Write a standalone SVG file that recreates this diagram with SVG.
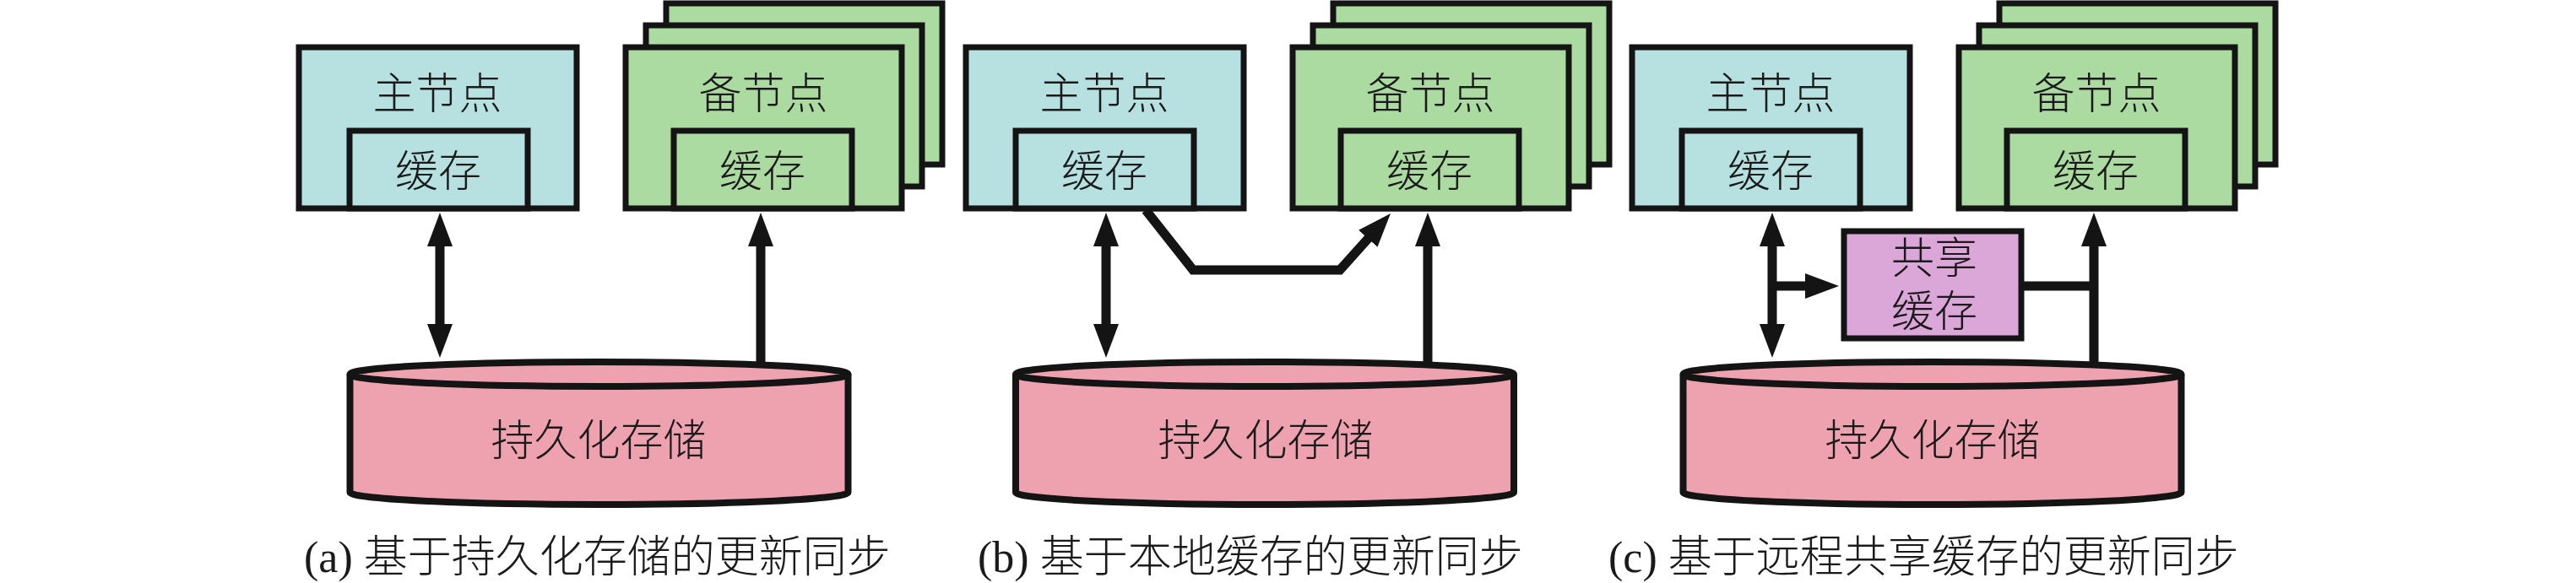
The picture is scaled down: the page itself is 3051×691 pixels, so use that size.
<svg xmlns="http://www.w3.org/2000/svg" width="3051" height="691" viewBox="0 0 3051 691">
<style>
.bx{stroke:#141414;stroke-width:7;stroke-linejoin:miter}
.pri{fill:#b6e1e0}
.sec{fill:#acdba2}
.sh{fill:#dba6d8}
.db{fill:#eea2b0;stroke:#141414;stroke-width:8}
.t{font-family:"Liberation Serif","Noto Sans CJK SC",serif;font-size:51px;font-weight:300;fill:#1a1a1a;text-anchor:middle}
.cap{font-family:"Liberation Serif","Noto Sans CJK SC",serif;font-size:52px;font-weight:300;fill:#1a1a1a}
.ln{fill:none;stroke:#141414;stroke-width:11;stroke-linejoin:miter}
</style>
<defs>
<marker id="ah" viewBox="0 0 40 30" refX="12" refY="15" markerWidth="40" markerHeight="30" markerUnits="userSpaceOnUse" orient="auto-start-reverse">
<path d="M0,0 L40,15 L0,30 z" fill="#141414"/>
</marker>
</defs>
<rect width="3051" height="691" fill="#ffffff"/>

<!-- Panel (a) -->
<g id="a-primary">
<rect class="bx pri" x="354" y="56" width="329" height="191"/>
<rect class="bx pri" x="414" y="155" width="211" height="92"/>
<text class="t" x="518" y="129">主节点</text>
<text class="t" x="519" y="221">缓存</text>
</g>
<g id="a-standby">
<rect class="bx sec" x="789" y="4" width="327" height="191"/>
<rect class="bx sec" x="765" y="30" width="327" height="191"/>
<rect class="bx sec" x="741" y="56" width="327" height="191"/>
<rect class="bx sec" x="798" y="155" width="211" height="92"/>
<text class="t" x="904" y="129">备节点</text>
<text class="t" x="903" y="221">缓存</text>
</g>
<g id="a-storage">
<path class="db" d="M414.5,443.5 V583.5 A295,14.5 0 0 0 1004.5,583.5 V443.5"/>
<ellipse class="db" cx="709.5" cy="443.5" rx="295" ry="14.5"/>
<text class="t" x="709" y="540">持久化存储</text>
</g>

<!-- Panel (b) -->
<g id="b-primary">
<rect class="bx pri" x="1144" y="56" width="329" height="191"/>
<rect class="bx pri" x="1203" y="155" width="211" height="92"/>
<text class="t" x="1308" y="129">主节点</text>
<text class="t" x="1308" y="221">缓存</text>
</g>
<g id="b-standby">
<rect class="bx sec" x="1579" y="4" width="327" height="191"/>
<rect class="bx sec" x="1555" y="30" width="327" height="191"/>
<rect class="bx sec" x="1531" y="56" width="327" height="191"/>
<rect class="bx sec" x="1588" y="155" width="211" height="92"/>
<text class="t" x="1694" y="129">备节点</text>
<text class="t" x="1693" y="221">缓存</text>
</g>
<g id="b-storage">
<path class="db" d="M1203,443.5 V583.5 A295,14.5 0 0 0 1793,583.5 V443.5"/>
<ellipse class="db" cx="1498" cy="443.5" rx="295" ry="14.5"/>
<text class="t" x="1499" y="540">持久化存储</text>
</g>

<!-- Panel (c) -->
<g id="c-primary">
<rect class="bx pri" x="1933" y="56" width="329" height="191"/>
<rect class="bx pri" x="1992" y="155" width="211" height="92"/>
<text class="t" x="2097" y="129">主节点</text>
<text class="t" x="2097" y="221">缓存</text>
</g>
<g id="c-standby">
<rect class="bx sec" x="2368" y="4" width="327" height="191"/>
<rect class="bx sec" x="2344" y="30" width="327" height="191"/>
<rect class="bx sec" x="2320" y="56" width="327" height="191"/>
<rect class="bx sec" x="2377" y="155" width="211" height="92"/>
<text class="t" x="2483" y="129">备节点</text>
<text class="t" x="2482" y="221">缓存</text>
</g>
<g id="c-shared">
<rect class="bx sh" x="2184" y="274" width="210" height="127"/>
<text class="t" x="2291" y="324">共享</text>
<text class="t" x="2291" y="387">缓存</text>
</g>
<g id="c-storage">
<path class="db" d="M1993.5,443.5 V583.5 A295,14.5 0 0 0 2583.5,583.5 V443.5"/>
<ellipse class="db" cx="2288.5" cy="443.5" rx="295" ry="14.5"/>
<text class="t" x="2289" y="540">持久化存储</text>
</g>

<g id="connectors">
<path class="ln" d="M521,280 V396" marker-start="url(#ah)" marker-end="url(#ah)"/>
<path class="ln" d="M901,433 V280" marker-end="url(#ah)"/>
<path class="ln" d="M1310,280 V396" marker-start="url(#ah)" marker-end="url(#ah)"/>
<path class="ln" d="M1691,433 V280" marker-end="url(#ah)"/>
<path class="ln" d="M1357,249 L1413,320 L1587,320 L1628.3,273.9" marker-end="url(#ah)"/>
<path class="ln" d="M2099,280 V396" marker-start="url(#ah)" marker-end="url(#ah)"/>
<path class="ln" d="M2099,339 H2150" marker-end="url(#ah)"/>
<path class="ln" d="M2394,339 H2480"/>
<path class="ln" d="M2480,433 V280" marker-end="url(#ah)"/>
</g>

<g id="captions">
<text class="cap" x="360" y="678">(a) 基于持久化存储的更新同步</text>
<text class="cap" x="1158" y="678">(b) 基于本地缓存的更新同步</text>
<text class="cap" x="1905" y="678">(c) 基于远程共享缓存的更新同步</text>
</g>
</svg>
